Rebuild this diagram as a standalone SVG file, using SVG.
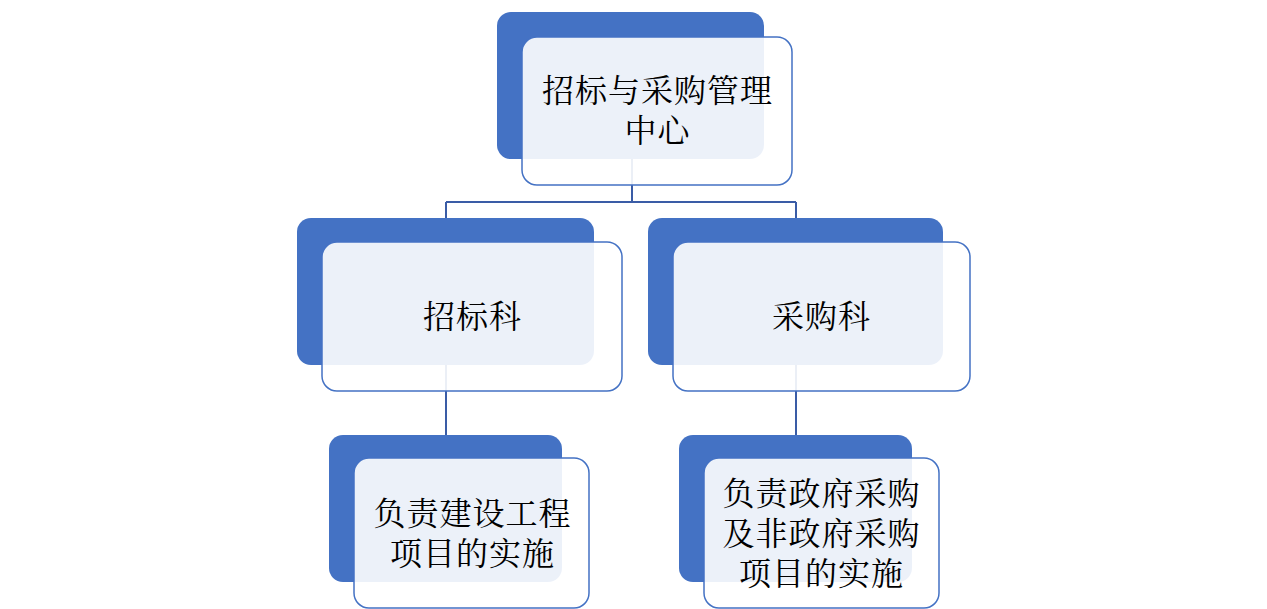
<svg xmlns="http://www.w3.org/2000/svg" width="1267" height="609" viewBox="0 0 1267 609">
<style>
.back{fill:#4472C4;}
.front{fill:#FFFFFF;fill-opacity:0.9;stroke:#4472C4;stroke-width:1.5;}
.conn{fill:none;stroke:#3A5CA6;stroke-width:2;}
.t{font-family:"Liberation Serif","Noto Serif CJK SC","Noto Sans CJK SC",serif;font-size:32px;fill:#000;text-anchor:middle;letter-spacing:1px;}
</style>
<rect width="1267" height="609" fill="#FFFFFF"/>
<g id="connectors">
<path class="conn" d="M632,159 V202 M446,202 H796 M446,202 V218 M796,202 V218"/>
<path class="conn" d="M446,365 V435"/>
<path class="conn" d="M796,365 V435"/>
</g>
<g id="node-top">
<rect class="back" x="497" y="12" width="267" height="147" rx="14"/>
<rect class="front" x="522" y="37" width="270" height="148" rx="15"/>
<text class="t" x="657.5" y="102">招标与采购管理</text>
<text class="t" x="657.5" y="142">中心</text>
</g>
<g id="node-zbk">
<rect class="back" x="297" y="218" width="297" height="147" rx="14"/>
<rect class="front" x="322" y="242" width="300" height="149" rx="15"/>
<text class="t" x="472.5" y="328">招标科</text>
</g>
<g id="node-cgk">
<rect class="back" x="648" y="218" width="295" height="147" rx="14"/>
<rect class="front" x="673" y="242" width="297" height="149" rx="15"/>
<text class="t" x="821.5" y="328">采购科</text>
</g>
<g id="node-jsgc">
<rect class="back" x="329" y="435" width="233" height="147" rx="14"/>
<rect class="front" x="354" y="458" width="235" height="150" rx="15"/>
<text class="t" x="472.5" y="525">负责建设工程</text>
<text class="t" x="472.5" y="565">项目的实施</text>
</g>
<g id="node-zfcg">
<rect class="back" x="679" y="435" width="233" height="147" rx="14"/>
<rect class="front" x="704" y="458" width="235" height="150" rx="15"/>
<text class="t" x="821.5" y="505">负责政府采购</text>
<text class="t" x="821.5" y="545">及非政府采购</text>
<text class="t" x="821.5" y="585">项目的实施</text>
</g>
</svg>
